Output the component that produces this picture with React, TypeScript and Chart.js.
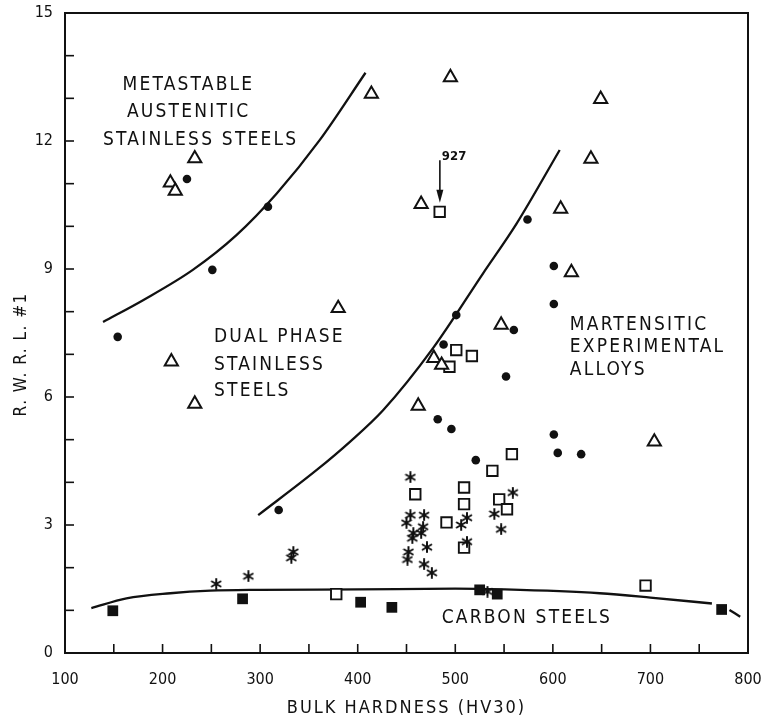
import React, { useEffect, useRef } from 'react';
import { Chart, registerables } from 'chart.js';
Chart.register(...registerables);

// ---- data ----
const circleX = [154, 225, 308, 251, 319, 574, 601, 601, 501, 560, 488, 552, 482, 496, 601, 605, 629, 521];
const circleY = [7.41, 11.11, 10.46, 8.98, 3.35, 10.16, 9.07, 8.18, 7.92, 7.57, 7.23, 6.48, 5.48, 5.25, 5.12, 4.69, 4.66, 4.52];

const triangleX = [414, 233, 208, 213, 380, 209, 233, 495, 649, 639, 465, 608, 619, 547, 478, 486, 462, 704];
const triangleY = [13.1, 11.59, 11.02, 10.83, 8.08, 6.83, 5.84, 13.49, 12.98, 11.58, 10.52, 10.41, 8.92, 7.69, 6.91, 6.75, 5.79, 4.95];

const openSquareX = [484, 501, 517, 494, 558, 538, 459, 509, 509, 545, 553, 491, 509, 378, 695];
const openSquareY = [10.34, 7.1, 6.96, 6.71, 4.66, 4.27, 3.72, 3.88, 3.49, 3.6, 3.37, 3.06, 2.47, 1.38, 1.58];

const filledSquareX = [149, 282, 403, 435, 525, 543, 773];
const filledSquareY = [0.99, 1.27, 1.19, 1.07, 1.48, 1.38, 1.02];

const asteriskX = [255, 288, 334, 332, 454, 454, 450, 468, 467, 465, 457, 456, 471, 452, 451, 468, 476, 512, 506, 512, 559, 540, 547, 533];
const asteriskY = [1.62, 1.8, 2.37, 2.23, 4.12, 3.23, 3.05, 3.23, 2.96, 2.81, 2.81, 2.69, 2.48, 2.37, 2.19, 2.08, 1.88, 3.17, 3.0, 2.61, 3.76, 3.26, 2.9, 1.44];

// hand-drawn boundary curves
const austeniticCurveX = [139, 180, 231, 276, 317, 361, 408];
const austeniticCurveY = [7.76, 8.27, 8.98, 9.8, 10.77, 12.02, 13.6];

const martensiticCurveX = [298, 358, 392, 426, 477, 528.5, 563, 607];
const martensiticCurveY = [3.23, 4.29, 4.95, 5.69, 7.14, 8.9, 10.07, 11.79];

const carbonCurveX = [127, 163, 208, 249, 300, 400, 500, 551, 648, 700, 763];
const carbonCurveY = [1.05, 1.28, 1.4, 1.46, 1.48, 1.49, 1.51, 1.49, 1.4, 1.3, 1.16];

const carbonTailX = [781, 792];
const carbonTailY = [1.01, 0.85];

const xTickLabels = ['100', '200', '300', '400', '500', '600', '700', '800'];
const yTickLabels = ['0', '3', '6', '9', '12', '15'];

const xTitle = 'BULK HARDNESS (HV30)';
const yTitle = 'R. W. R. L. #1';

const regionLabels = [
  { text: 'METASTABLE', x: 159, y: 13.31 },
  { text: 'AUSTENITIC', x: 163.5, y: 12.68 },
  { text: 'STAINLESS STEELS', x: 139, y: 12.02 },
  { text: 'DUAL PHASE', x: 252.7, y: 7.41 },
  { text: 'STAINLESS', x: 252.7, y: 6.75 },
  { text: 'STEELS', x: 252.7, y: 6.14 },
  { text: 'MARTENSITIC', x: 617.4, y: 7.69 },
  { text: 'EXPERIMENTAL', x: 617.4, y: 7.16 },
  { text: 'ALLOYS', x: 617.4, y: 6.63 },
  { text: 'CARBON STEELS', x: 486, y: 0.81 },
];

const arrowNote = { text: '927', x: 484.2, yFrom: 11.55, yTo: 10.55 };

const INK = '#111';
const FONT = "'DejaVu Sans Condensed', 'Liberation Sans Narrow', 'DejaVu Sans', sans-serif";

const pts = (xs: number[], ys: number[]) => xs.map((x, i) => ({ x, y: ys[i] }));

function makeAsterisk(size: number) {
  const c = document.createElement('canvas');
  c.width = size;
  c.height = size;
  const g = c.getContext('2d')!;
  g.strokeStyle = INK;
  g.lineWidth = 2;
  g.lineCap = 'round';
  const m = size / 2;
  const r = size / 2 - 1;
  for (let i = 0; i < 3; i++) {
    const a = Math.PI / 2 + (i * Math.PI) / 3;
    g.beginPath();
    g.moveTo(m + r * Math.cos(a), m + r * Math.sin(a));
    g.lineTo(m - r * Math.cos(a), m - r * Math.sin(a));
    g.stroke();
  }
  return c;
}

const decor = {
  id: 'decor',
  beforeDraw(chart: any) {
    const ctx = chart.ctx;
    ctx.save();
    ctx.fillStyle = '#fff';
    ctx.fillRect(0, 0, chart.width, chart.height);
    ctx.restore();
    ctx.letterSpacing = '0px';
  },
  afterDraw(chart: any) {
    const { ctx, chartArea: a, scales } = chart;
    const xs = scales.x;
    const ys = scales.y;
    ctx.save();
    ctx.strokeStyle = INK;
    ctx.fillStyle = INK;
    // frame
    ctx.lineWidth = 2;
    ctx.beginPath();
    ctx.moveTo(a.left, a.top);
    ctx.lineTo(a.right, a.top);
    ctx.lineTo(a.right, a.bottom);
    ctx.lineTo(a.left, a.bottom);
    ctx.closePath();
    ctx.stroke();
    // inward ticks
    ctx.lineWidth = 1.6;
    for (let v = 150; v < 800; v += 50) {
      const px = xs.getPixelForValue(v);
      ctx.beginPath();
      ctx.moveTo(px, a.bottom);
      ctx.lineTo(px, a.bottom - 9);
      ctx.stroke();
    }
    for (let v = 1; v < 15; v++) {
      const py = ys.getPixelForValue(v);
      ctx.beginPath();
      ctx.moveTo(a.left, py);
      ctx.lineTo(a.left + 9, py);
      ctx.stroke();
    }
    // axis titles
    ctx.letterSpacing = '2px';
    ctx.font = `18px ${FONT}`;
    ctx.textAlign = 'center';
    ctx.textBaseline = 'middle';
    ctx.fillText(xTitle, (a.left + a.right) / 2, a.bottom + 55);
    ctx.save();
    ctx.translate(22, ys.getPixelForValue(7));
    ctx.rotate(-Math.PI / 2);
    ctx.letterSpacing = '1.5px';
    ctx.font = `17px ${FONT}`;
    ctx.fillText(yTitle, 0, 0);
    ctx.restore();
    // region labels
    ctx.letterSpacing = '2.2px';
    ctx.font = `19px ${FONT}`;
    ctx.textAlign = 'left';
    ctx.textBaseline = 'middle';
    regionLabels.forEach((l) => {
      ctx.fillText(l.text, xs.getPixelForValue(l.x), ys.getPixelForValue(l.y));
    });
    // 927 arrow
    const ax = xs.getPixelForValue(arrowNote.x);
    const y0 = ys.getPixelForValue(arrowNote.yFrom);
    const y1 = ys.getPixelForValue(arrowNote.yTo);
    ctx.lineWidth = 1.6;
    ctx.beginPath();
    ctx.moveTo(ax, y0);
    ctx.lineTo(ax, y1 - 10);
    ctx.stroke();
    ctx.beginPath();
    ctx.moveTo(ax - 3.5, y1 - 13);
    ctx.lineTo(ax + 3.5, y1 - 13);
    ctx.lineTo(ax, y1);
    ctx.closePath();
    ctx.fill();
    ctx.letterSpacing = '0px';
    ctx.font = `bold 13px ${FONT}`;
    ctx.textBaseline = 'bottom';
    ctx.fillText(arrowNote.text, ax + 2, y0 + 3);
    ctx.restore();
    ctx.letterSpacing = '0px';
  },
};

export default function App() {
  const ref = useRef<HTMLCanvasElement>(null);
  useEffect(() => {
    document.body.style.margin = '0';
    const canvas = ref.current!;
    const star = makeAsterisk(12);
    const lineDs = (xs: number[], ys: number[]) => ({
      data: pts(xs, ys),
      showLine: true,
      borderColor: INK,
      borderWidth: 2.3,
      pointRadius: 0,
      cubicInterpolationMode: 'monotone',
      order: 10,
    });
    const chart = new Chart(canvas, {
      type: 'scatter',
      data: {
        datasets: [
          lineDs(austeniticCurveX, austeniticCurveY),
          lineDs(martensiticCurveX, martensiticCurveY),
          lineDs(carbonCurveX, carbonCurveY),
          lineDs(carbonTailX, carbonTailY),
          {
            data: pts(circleX, circleY),
            pointStyle: 'circle',
            pointRadius: 4.3,
            backgroundColor: INK,
            borderColor: INK,
            borderWidth: 0,
            order: 1,
          },
          {
            data: pts(triangleX, triangleY),
            pointStyle: 'triangle',
            pointRadius: 7.6,
            backgroundColor: '#fff',
            borderColor: INK,
            borderWidth: 2,
            order: 1,
          },
          {
            data: pts(openSquareX, openSquareY),
            pointStyle: 'rect',
            pointRadius: 7.4,
            backgroundColor: '#fff',
            borderColor: INK,
            borderWidth: 1.9,
            order: 1,
          },
          {
            data: pts(filledSquareX, filledSquareY),
            pointStyle: 'rect',
            pointRadius: 7.6,
            backgroundColor: INK,
            borderColor: INK,
            borderWidth: 0,
            order: 1,
          },
          {
            data: pts(asteriskX, asteriskY),
            pointStyle: star as any,
            pointRadius: 6,
            order: 0,
          },
        ],
      },
      options: {
        animation: false,
        responsive: false,
        events: [],
        layout: { padding: { top: 13, right: 18, left: 0, bottom: 0 } },
        plugins: { legend: { display: false }, tooltip: { enabled: false } },
        scales: {
          x: {
            type: 'linear',
            min: 100,
            max: 800,
            grid: { display: false, drawTicks: false },
            border: { display: false },
            title: { display: false },
            ticks: {
              stepSize: 100,
              autoSkip: false,
              maxRotation: 0,
              padding: 17,
              color: INK,
              font: { family: FONT, size: 16 },
              callback: (v: any) => {
                const s = String(v);
                return xTickLabels.includes(s) ? s : '';
              },
            },
            afterFit: (s: any) => {
              s.height = 68;
              s.paddingLeft = 0;
              s.paddingRight = 0;
            },
          },
          y: {
            type: 'linear',
            min: 0,
            max: 15,
            grid: { display: false, drawTicks: false },
            border: { display: false },
            title: { display: false },
            ticks: {
              stepSize: 3,
              autoSkip: false,
              padding: 12,
              color: INK,
              font: { family: FONT, size: 16 },
              callback: (v: any) => {
                const s = String(v);
                return yTickLabels.includes(s) ? s : '';
              },
            },
            afterFit: (s: any) => {
              s.width = 65;
              s.paddingTop = 0;
              s.paddingBottom = 0;
            },
          },
        },
      },
      plugins: [decor],
    } as any);
    return () => chart.destroy();
  }, []);
  return (
    <div style={{ position: 'absolute', left: 0, top: 0, width: 766, height: 721, background: '#fff' }}>
      <canvas ref={ref} width={766} height={721} style={{ display: 'block', width: 766, height: 721 }} />
    </div>
  );
}
